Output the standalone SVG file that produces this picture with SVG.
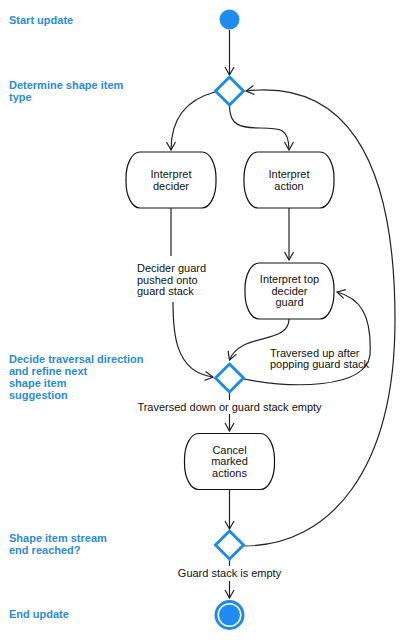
<svg xmlns="http://www.w3.org/2000/svg" width="406" height="640" viewBox="0 0 406 640">
<defs>
<marker id="arr" markerWidth="12" markerHeight="12" refX="9" refY="5" orient="auto" markerUnits="userSpaceOnUse">
<path d="M1,0.5 L9,5 L1,9.5" fill="none" stroke="#222" stroke-width="1.2"/>
</marker>
</defs>
<style>
.lane{font-family:"Liberation Sans",Arial,sans-serif;font-size:11px;font-weight:bold;fill:#2b8bd6}
.t{font-family:"Liberation Sans",Arial,sans-serif;font-size:11px;fill:#111;text-anchor:middle}
.lbl{font-family:"Liberation Sans",Arial,sans-serif;font-size:11px;fill:#111}
.box{fill:#fff;stroke:#111;stroke-width:1.2}
.dec{fill:#fff;stroke:#1e8ce6;stroke-width:3}
.c{fill:none;stroke:#222;stroke-width:1.2;marker-end:url(#arr)}
.bg{fill:#fff}
</style>
<rect width="406" height="640" fill="#fff"/>
<g id="lanes">
<text class="lane" x="9" y="24">Start update</text>
<text class="lane" x="9" y="89">Determine shape item</text>
<text class="lane" x="9" y="101">type</text>
<text class="lane" x="9" y="363">Decide traversal direction</text>
<text class="lane" x="9" y="375">and refine next</text>
<text class="lane" x="9" y="387">shape item</text>
<text class="lane" x="9" y="399">suggestion</text>
<text class="lane" x="9" y="542">Shape item stream</text>
<text class="lane" x="9" y="554">end reached?</text>
<text class="lane" x="9" y="618">End update</text>
</g>
<g id="connectors">
<path class="c" d="M229.5,30 L229.5,75"/>
<path class="c" d="M215,92 C185,100 171,120 171,150"/>
<path class="c" d="M229.5,106 C229.5,125 240,128 260,128 C280,128 289,128 289,150"/>
<path d="M171,208 L171,256" fill="none" stroke="#222" stroke-width="1.2"/>
<path class="c" d="M173,302 C173,330 174,372 213,377"/>
<path class="c" d="M289,208 L289,260"/>
<path class="c" d="M289,319 C289,345 240,332 229.5,360"/>
<path class="c" d="M244,379 C290,388 365,390 370,355 C372,315 360,298 337,292"/>
<path class="c" d="M229.5,392 L229.5,431"/>
<path class="c" d="M229.5,489 L229.5,529"/>
<path class="c" d="M244,546 C330,546 395,470 395,320 C395,150 340,80 246,91"/>
<path class="c" d="M229.5,560 L229.5,598"/>
<rect class="bg" x="135" y="400" width="190" height="14"/>
<text class="t" x="229.5" y="411">Traversed down or guard stack empty</text>
<rect class="bg" x="175" y="566" width="110" height="15"/>
<text class="t" x="229.5" y="577">Guard stack is empty</text>
<text class="lbl" x="137" y="272">Decider guard</text>
<text class="lbl" x="137" y="284">pushed onto</text>
<text class="lbl" x="137" y="295">guard stack</text>
<text class="lbl" x="270" y="357">Traversed up after</text>
<text class="lbl" x="270" y="368">popping guard stack</text>
</g>
<g id="start">
<circle cx="229.5" cy="19.5" r="10" fill="#1e8cf0"/>
</g>
<g id="decision1">
<path class="dec" d="M229.5,77 L243.5,91 L229.5,105 L215.5,91 Z"/>
</g>
<g id="interpretDecider">
<rect class="box" x="126" y="152" width="90" height="56" rx="14" ry="26"/>
<text class="t" x="171" y="178">Interpret</text>
<text class="t" x="171" y="189.5">decider</text>
</g>
<g id="interpretAction">
<rect class="box" x="244" y="152" width="90" height="56" rx="14" ry="26"/>
<text class="t" x="289" y="178">Interpret</text>
<text class="t" x="289" y="189.5">action</text>
</g>
<g id="interpretTopDeciderGuard">
<rect class="box" x="245" y="263" width="89" height="56" rx="14" ry="26"/>
<text class="t" x="289.5" y="283">Interpret top</text>
<text class="t" x="289.5" y="294.5">decider</text>
<text class="t" x="289.5" y="306">guard</text>
</g>
<g id="decision2">
<path class="dec" d="M229.5,364 L243.5,378 L229.5,392 L215.5,378 Z"/>
</g>
<g id="cancelMarkedActions">
<rect class="box" x="184.5" y="433.5" width="90" height="56" rx="14" ry="26"/>
<text class="t" x="229.5" y="453.5">Cancel</text>
<text class="t" x="229.5" y="465">marked</text>
<text class="t" x="229.5" y="476.5">actions</text>
</g>
<g id="decision3">
<path class="dec" d="M229.5,531 L243.5,545 L229.5,559 L215.5,545 Z"/>
</g>
<g id="end">
<circle cx="229.5" cy="615" r="13.5" fill="#fff" stroke="#1e8ce6" stroke-width="3"/>
<circle cx="229.5" cy="615" r="10.5" fill="#1e8cf0"/>
</g>
</svg>
